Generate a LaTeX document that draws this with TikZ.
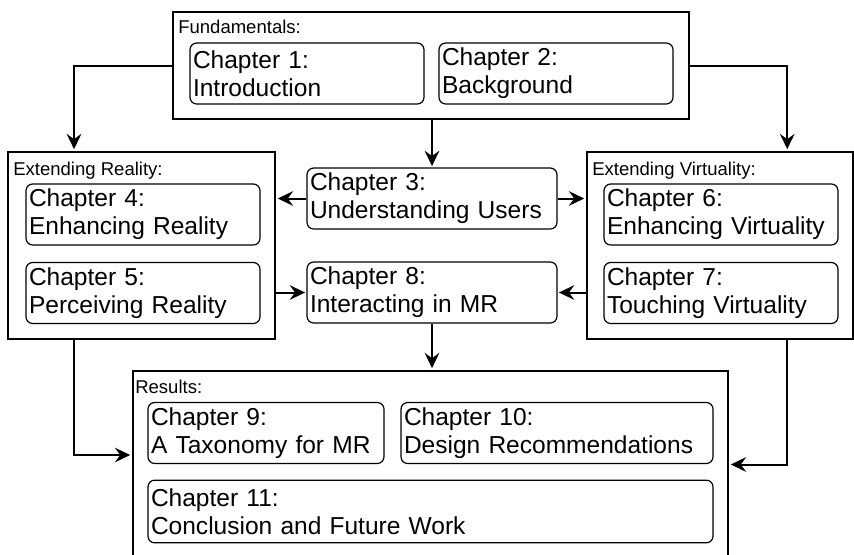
\documentclass[tikz,border=0pt]{standalone}
\usepackage{fontspec}
\setmainfont{Liberation Sans}
\usetikzlibrary{arrows.meta,calc}

\begin{document}
\begin{tikzpicture}[x=0.75pt,y=-0.75pt,
  group/.style={draw,line width=2.2pt,inner sep=0pt},
  grouplbl/.style={anchor=base west,inner sep=0pt,font=\fontsize{13.9}{16}\selectfont},
  chap/.style={draw,rounded corners=5pt,line width=0.9pt,align=left,text width=#1,
    inner xsep=2.25pt,inner ysep=0pt,minimum height=45.75pt,font=\fontsize{18.4}{21}\selectfont},
  arr/.style={line width=1.5pt,shorten >=1pt,-{Stealth[length=11.5pt,width=11pt,inset=4pt]}}]
\clip (0,0) rectangle (854,554);

% fundamentals
\node[group,minimum width=387pt,minimum height=80.25pt] (fund) at (431,65.5) {};
\node[grouplbl] (fundlbl) at (178,33) {Fundamentals:};
\node[chap=171pt] (ch1) at (307,73.5) {Chapter 1:\\Introduction};
\node[chap=171pt] (ch2) at (556,73.5) {Chapter 2:\\Background};

% extending reality / virtuality
\node[group,minimum width=200.25pt,minimum height=140.25pt] (er) at (141.5,245.5) {};
\node[grouplbl] (erlbl) at (13,175) {Extending Reality:};
\node[chap=171pt] (ch4) at (143,214.5) {Chapter 4:\\Enhancing Reality};
\node[chap=171pt] (ch5) at (143,293) {Chapter 5:\\Perceiving Reality};

\node[group,minimum width=199.5pt,minimum height=140.25pt] (ev) at (720,245.5) {};
\node[grouplbl] (evlbl) at (592,175) {Extending Virtuality:};
\node[chap=171pt] (ch6) at (721,214.5) {Chapter 6:\\Enhancing Virtuality};
\node[chap=171pt] (ch7) at (721,293) {Chapter 7:\\Touching Virtuality};

\node[chap=183pt] (ch3) at (432,198.5) {Chapter 3:\\Understanding Users};
\node[chap=183pt] (ch8) at (432,292.5) {Chapter 8:\\Interacting in MR};

% results
\node[group,minimum width=446.25pt,minimum height=140.25pt] (res) at (430.5,464.5) {};
\node[grouplbl] (reslbl) at (135,393) {Results:};
\node[chap=172.5pt] (ch9) at (266,433) {Chapter 9:\\A Taxonomy for MR};
\node[chap=229.5pt] (ch10) at (557,433) {Chapter 10:\\Design Recommendations};
\node[chap=419.25pt,minimum height=47pt] (ch11) at (430.5,511.5) {Chapter 11:\\Conclusion and Future Work};

% connectors
\draw[arr] (fund.west) -| ($(er.north west)!.25!(er.north east)$);
\draw[arr] (fund.east) -| ($(ev.north west)!.75!(ev.north east)$);
\draw[arr] (ch3.north |- fund.south) -- (ch3.north);
\draw[arr] (ch3.west) -- (er.east |- ch3.west);
\draw[arr] (ch3.east) -- (ev.west |- ch3.east);
\draw[arr] (er.east |- ch8.west) -- (ch8.west);
\draw[arr] (ev.west |- ch8.east) -- (ch8.east);
\draw[arr] (ch8.south) -- (ch8.south |- res.north);
\draw[arr] ($(er.south west)!.25!(er.south east)$) |- ($(res.north west)!.45!(res.south west)$);
\draw[arr] ($(ev.south west)!.75!(ev.south east)$) |- (res.east);
\end{tikzpicture}
\end{document}
